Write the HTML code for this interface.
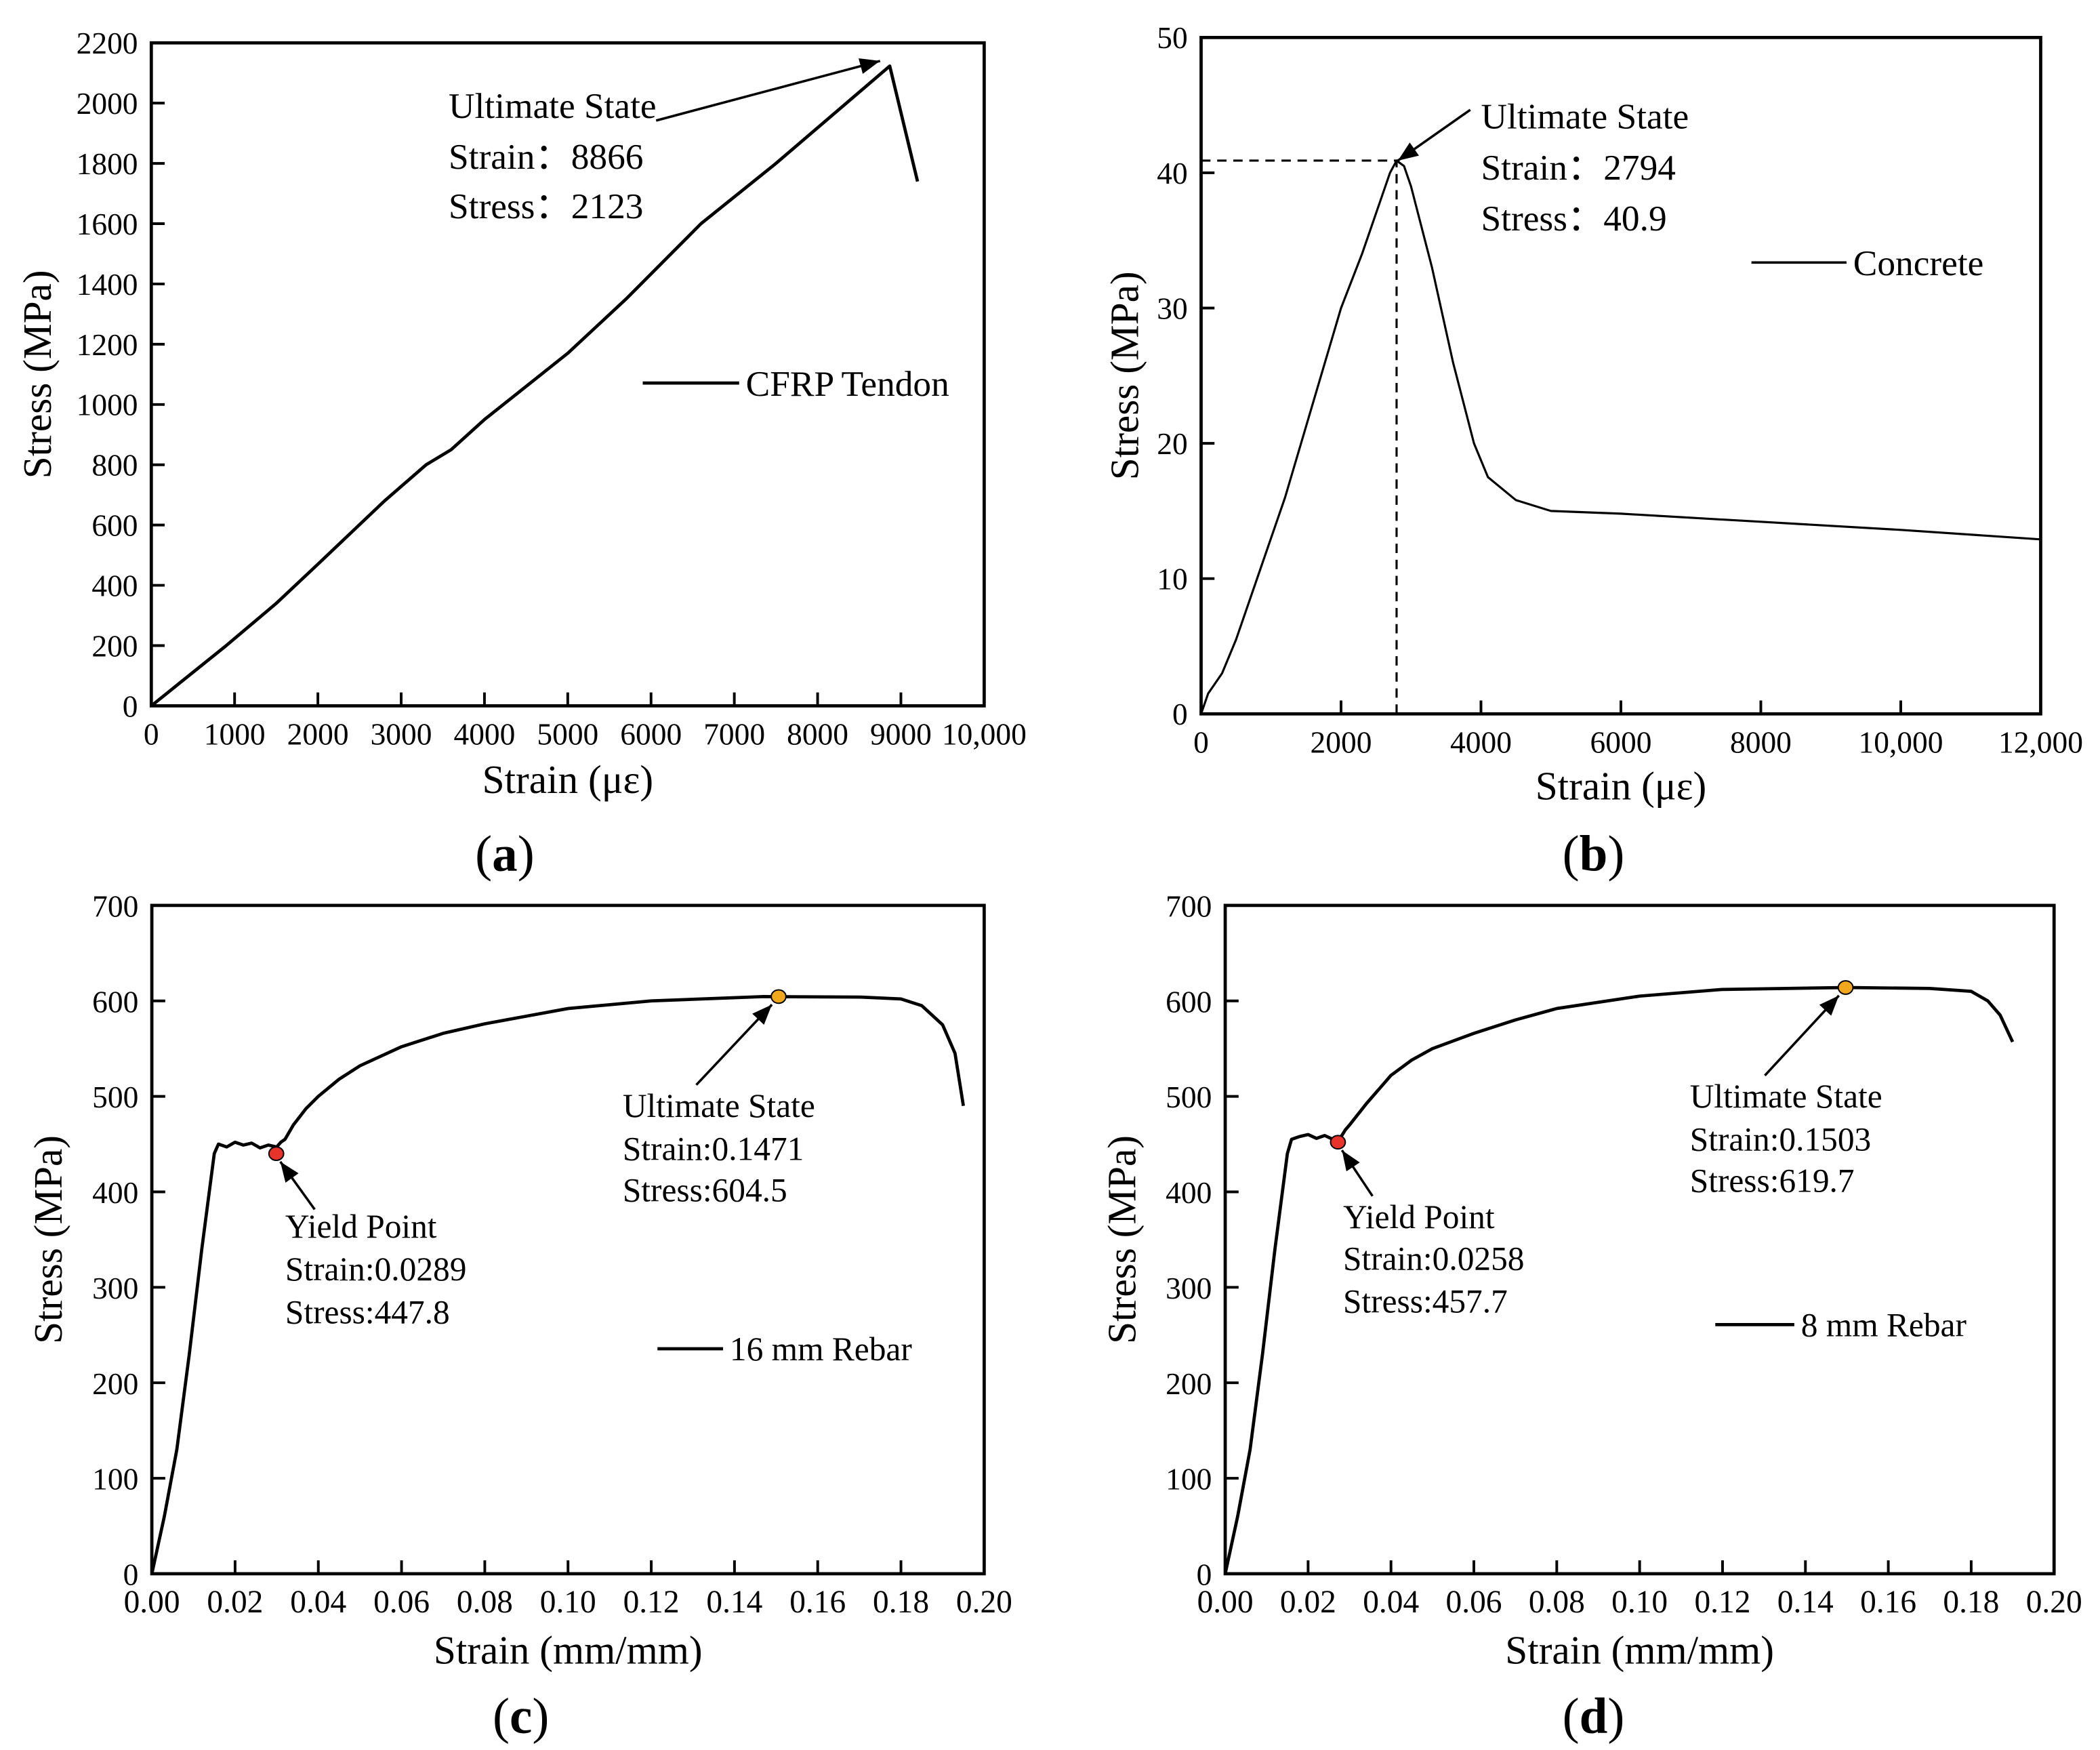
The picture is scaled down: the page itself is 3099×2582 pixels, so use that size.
<!DOCTYPE html>
<html><head><meta charset="utf-8"><style>
html,body{margin:0;padding:0;background:#fff;}
svg{display:block;font-family:"Liberation Serif",serif;}
</style></head><body>
<svg id="fig" width="3099" height="2582" viewBox="0 0 1568.3 1306.6" preserveAspectRatio="none" xmlns="http://www.w3.org/2000/svg" font-family="Liberation Serif, serif">
<defs>
<marker id="ah2" viewBox="0 0 10 8" markerWidth="16" markerHeight="12" refX="10" refY="4" orient="auto" markerUnits="userSpaceOnUse"><path d="M0,0 L10,4 L0,8 z"/></marker></defs>
</svg>
<script>
// Panel (a) CFRP
const aStrain=[0,900,1500,2000,2800,3300,3600,4000,5000,5700,6600,7500,8866,9200];
const aStress=[0,200,340,470,680,800,850,950,1170,1350,1600,1800,2123,1740];
const aXTicks=[0,1000,2000,3000,4000,5000,6000,7000,8000,9000,10000];
const aXLabels=["0","1000","2000","3000","4000","5000","6000","7000","8000","9000","10,000"];
const aYTicks=[0,200,400,600,800,1000,1200,1400,1600,1800,2000,2200];
// Panel (b) Concrete
const bStrain=[0,100,300,500,800,1200,1600,2000,2300,2500,2700,2794,2900,3000,3300,3600,3900,4100,4500,5000,6000,8000,10000,12000];
const bStress=[0,1.5,3,5.5,10,16,23,30,34,37,40,40.9,40.5,39,33,26,20,17.5,15.8,15,14.8,14.2,13.6,12.9];
const bXTicks=[0,2000,4000,6000,8000,10000,12000];
const bXLabels=["0","2000","4000","6000","8000","10,000","12,000"];
const bYTicks=[0,10,20,30,40,50];
// Panel (c) 16 mm rebar
const cStrain=[0,0.003,0.006,0.009,0.012,0.015,0.016,0.018,0.02,0.022,0.024,0.026,0.028,0.03,0.031,0.032,0.034,0.037,0.04,0.045,0.05,0.06,0.07,0.08,0.1,0.12,0.147,0.17,0.18,0.185,0.19,0.193,0.195];
const cStress=[0,60,130,230,340,440,450,447,452,449,451,446,449,447,452,455,470,487,500,518,532,552,566,576,592,600,604.5,604,602,595,575,545,490];
const cYield=[0.0299,440]; const cUlt=[0.1506,604.5];
// Panel (d) 8 mm rebar
const dStrain=[0,0.003,0.006,0.009,0.012,0.015,0.016,0.018,0.02,0.022,0.024,0.026,0.028,0.029,0.03,0.034,0.04,0.045,0.05,0.06,0.07,0.08,0.1,0.12,0.15,0.17,0.18,0.184,0.187,0.19];
const dStress=[0,60,130,230,340,440,455,458,460,456,459,455,458,465,470,492,522,538,550,566,580,592,605,612,614,613,610,600,585,557];
const dYield=[0.0272,452]; const dUlt=[0.1497,614];
const rebarXTicks=[0,0.02,0.04,0.06,0.08,0.10,0.12,0.14,0.16,0.18,0.20];
const rebarYTicks=[0,100,200,300,400,500,600,700];

const NS="http://www.w3.org/2000/svg";
const svg=document.getElementById('fig');
function el(tag,attrs,parent){const e=document.createElementNS(NS,tag);for(const k in attrs)e.setAttribute(k,attrs[k]);(parent||svg).appendChild(e);return e;}
function txt(s,x,y,size,anchor,parent,name){const t=el('text',{x:x,y:y,'font-size':size,'text-anchor':anchor||'start','font-family':'Liberation Serif, serif'},parent);t.textContent=s;


return t;}

function panel(o){
  const g=el('g',{});
  
  
  const X=v=>o.L+(v-o.x0)/(o.x1-o.x0)*(o.R-o.L);
  const Y=v=>o.B-(v-o.y0)/(o.y1-o.y0)*(o.B-o.T);
  const fr=el('rect',{x:o.L,y:o.T,width:o.R-o.L,height:o.B-o.T,fill:'none',stroke:'#000','stroke-width':2.4},g);
  
  
  o.xt.forEach((v,i)=>{
    if(i>0&&i<o.xt.length-1){const t=el('line',{x1:X(v),x2:X(v),y1:o.B,y2:o.B-10,stroke:'#000','stroke-width':2},g);
    
    }
    txt(o.xl[i],X(v),o.B+o.xlOff,o.fs,'middle',g,'x-tick-label');
  });
  o.yt.forEach((v,i)=>{
    if(i>0&&i<o.yt.length-1){const t=el('line',{x1:o.L,x2:o.L+10,y1:Y(v),y2:Y(v),stroke:'#000','stroke-width':2},g);
    
    }
    txt(String(v),o.L-o.ylOff,Y(v)+o.fs*0.35,o.yfs||o.fs,'end',g,'y-tick-label');
  });
  const pts=o.xs.map((v,i)=>X(v).toFixed(2)+','+Y(o.ys[i]).toFixed(2)).join(' ');
  const pl=el('polyline',{points:pts,fill:'none',stroke:'#000','stroke-width':o.lw,'stroke-linejoin':'round'},g);
  
  
  const yt=txt('Stress (MPa)',0,0,o.tfs,'middle',g,'y-axis-title');
  yt.setAttribute('transform',`translate(${o.ytx},${(o.T+o.B)/2}) rotate(-90)`);
  txt(o.xtitle,(o.L+o.R)/2,o.xty,o.tfs,'middle',g,'x-axis-title');
  const pla=el('text',{x:o.plx,y:o.ply,'font-size':38,'text-anchor':'middle','font-family':'Liberation Serif, serif'},g);
  
  
  pla.innerHTML='(<tspan font-weight="bold">'+o.letter+'</tspan>)';
  return {g,X,Y};
}
function arrow(g,x1,y1,x2,y2){const a=el('line',{x1,y1,x2,y2,stroke:'#000','stroke-width':1.8,'marker-end':'url(#ah2)'},g);

}
function legend(g,x1,x2,y,label,fs,lw){const l=el('line',{x1,x2,y1:y,y2:y,stroke:'#000','stroke-width':lw},g);


txt(label,x2+5,y+fs*0.35,fs,'start',g,'legend-label');}
function marker(g,x,y,c){const m=el('ellipse',{cx:x,cy:y,rx:5.5,ry:5,fill:c,stroke:'#000','stroke-width':1},g);

}

// (a)
let p=panel({name:'panel-a',L:113,R:735,T:32,B:527,x0:0,x1:10000,y0:0,y1:2200,xt:aXTicks,xl:aXLabels,yt:aYTicks,xs:aStrain,ys:aStress,fs:23,xlOff:29,ylOff:10,lw:2.4,tfs:30,ytx:38,xtitle:'Strain (με)',xty:592,plx:377,ply:650,letter:'a'});
arrow(p.g,490,90,p.X(8750),p.Y(2140));
txt('Ultimate State',335,88,27,'start',p.g,'annotation-title');
txt('Strain：8866',335,126,27,'start',p.g,'annotation-strain');
txt('Stress：2123',335,163,27,'start',p.g,'annotation-stress');
legend(p.g,480,552,286,'CFRP Tendon',27,2.4);

// (b)
p=panel({name:'panel-b',L:897,R:1524,T:28,B:533,x0:0,x1:12000,y0:0,y1:50,xt:bXTicks,xl:bXLabels,yt:bYTicks,xs:bStrain,ys:bStress,fs:23,xlOff:29,ylOff:10,lw:1.6,tfs:30,ytx:850,xtitle:'Strain (με)',xty:597,plx:1190,ply:650,letter:'b'});
const dh=el('polyline',{points:`${p.X(0)},${p.Y(40.9)} ${p.X(2794)},${p.Y(40.9)} ${p.X(2794)},${p.Y(0)}`,fill:'none',stroke:'#000','stroke-width':1.6,'stroke-dasharray':'7,5'},p.g);


arrow(p.g,1098,82,p.X(2794)+1,p.Y(40.9));
txt('Ultimate State',1106,96,27,'start',p.g,'annotation-title');
txt('Strain：2794',1106,134,27,'start',p.g,'annotation-strain');
txt('Stress：40.9',1106,172,27,'start',p.g,'annotation-stress');
legend(p.g,1308,1379,196,'Concrete',27,1.8);

const rl=rebarXTicks.map(v=>v.toFixed(2));
// (c)
p=panel({name:'panel-c',L:113.4,R:735,T:676,B:1175,x0:0,x1:0.2,y0:0,y1:700,xt:rebarXTicks,xl:rl,yt:rebarYTicks,xs:cStrain,ys:cStress,fs:24,yfs:23,xlOff:29,ylOff:10,lw:2.4,tfs:30,ytx:46,xtitle:'Strain (mm/mm)',xty:1242,plx:389,ply:1294,letter:'c'});
arrow(p.g,235,903,p.X(cYield[0])+3,p.Y(cYield[1])+6);
arrow(p.g,520,810,p.X(cUlt[0])-5,p.Y(cUlt[1])+6);
marker(p.g,p.X(cYield[0]),p.Y(cYield[1]),'#e8332a');
marker(p.g,p.X(cUlt[0]),p.Y(cUlt[1]),'#f2a81c');
txt('Yield Point',213,924,25,'start',p.g,'yield-title');
txt('Strain:0.0289',213,956,25,'start',p.g,'yield-strain');
txt('Stress:447.8',213,988,25,'start',p.g,'yield-stress');
txt('Ultimate State',465,834,25,'start',p.g,'ultimate-title');
txt('Strain:0.1471',465,866,25,'start',p.g,'ultimate-strain');
txt('Stress:604.5',465,897,25,'start',p.g,'ultimate-stress');
legend(p.g,491,540,1007,'16 mm Rebar',25,2.4);

// (d)
p=panel({name:'panel-d',L:915,R:1534,T:676,B:1175,x0:0,x1:0.2,y0:0,y1:700,xt:rebarXTicks,xl:rl,yt:rebarYTicks,xs:dStrain,ys:dStress,fs:24,yfs:23,xlOff:29,ylOff:10,lw:2.4,tfs:30,ytx:848,xtitle:'Strain (mm/mm)',xty:1242,plx:1190,ply:1294,letter:'d'});
arrow(p.g,1025,893,p.X(dYield[0])+3,p.Y(dYield[1])+6);
arrow(p.g,1318,803,p.X(dUlt[0])-5,p.Y(dUlt[1])+6);
marker(p.g,p.X(dYield[0]),p.Y(dYield[1]),'#e8332a');
marker(p.g,p.X(dUlt[0]),p.Y(dUlt[1]),'#f2a81c');
txt('Yield Point',1003,917,25,'start',p.g,'yield-title');
txt('Strain:0.0258',1003,948,25,'start',p.g,'yield-strain');
txt('Stress:457.7',1003,980,25,'start',p.g,'yield-stress');
txt('Ultimate State',1262,827,25,'start',p.g,'ultimate-title');
txt('Strain:0.1503',1262,859,25,'start',p.g,'ultimate-strain');
txt('Stress:619.7',1262,890,25,'start',p.g,'ultimate-stress');
legend(p.g,1281,1340,989,'8 mm Rebar',25,2.4);
</script>
</body></html>
